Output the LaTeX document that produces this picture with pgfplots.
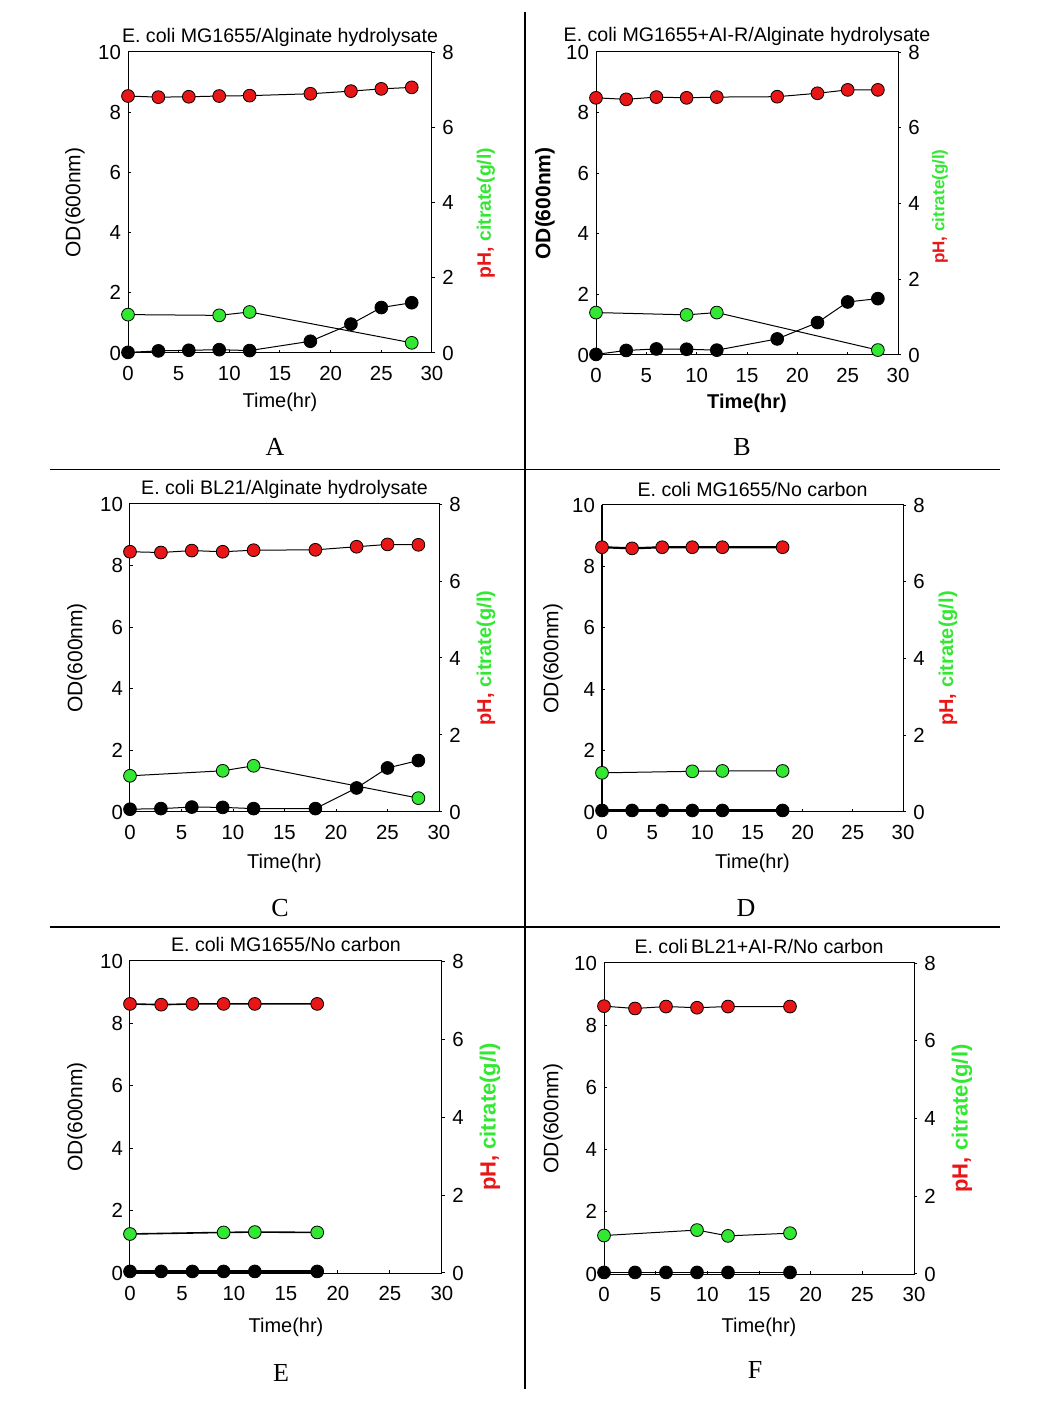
\documentclass[border=0pt]{standalone}
\usepackage{pgfplots}
\pgfplotsset{compat=1.18}
\usepackage{fontspec}
\setmainfont{Liberation Sans}
\newfontfamily\seriffont{Liberation Serif}
\definecolor{pHred}{RGB}{232,22,22}
\definecolor{citgreen}{RGB}{50,232,50}
\pgfplotsset{
  panel/.style={
    scale only axis, clip=false,
    xmin=0, xmax=30, ymin=0, ymax=10,
    xtick={0,5,...,30}, ytick={0,2,...,10},
    xtick pos=lower, ytick pos=left,
    tick align=inside, major tick length=1.6pt,
    axis line style={line width=0.5pt},
    tick style={line width=0.5pt, black},
    /pgf/number format/assume math mode=true,
    tick label style={font=\fontsize{10.2}{11}\selectfont},
    every axis title/.style={at={(axis description cs:0.5,1)}, anchor=center, font=\fontsize{9.8}{11}\selectfont},
    every axis x label/.style={at={(axis description cs:0.5,0)}, anchor=center, font=\fontsize{10}{11}\selectfont},
    xticklabel style={yshift=-3pt},
  },
  panelR/.style={
    scale only axis, clip=false,
    xmin=0, xmax=30, ymin=0, ymax=8,
    ytick={0,2,...,8},
    hide x axis, axis y line*=right,
    tick align=outside, major tick length=1.6pt,
    axis line style={line width=0.5pt},
    tick style={line width=0.5pt, black},
    /pgf/number format/assume math mode=true,
    tick label style={font=\fontsize{10.2}{11}\selectfont},
    ylabel={\textcolor{pHred}{pH,} \textcolor{citgreen}{citrate(g/l)}},
  },
  tshift/.style={every axis title/.append style={yshift=#1}},
  xlshift/.style={every axis x label/.append style={yshift=-#1}},
  ylpos/.style={every axis y label/.style={at={([xshift=-#1]axis description cs:0,0.5)}, rotate=90, anchor=center, font=\fontsize{10.5}{11}\selectfont}},
  yrpos/.style n args={3}{every axis y label/.style={at={([xshift=#1]axis description cs:1,#3)}, rotate=90, anchor=center, font=\bfseries\fontsize{#2}{12}\selectfont}},
  odser/.style={black, line width=0.5pt, mark=*, mark size=3.2pt, mark options={fill=black, draw=black, line width=0.4pt, solid}},
  phser/.style={black, line width=0.5pt, mark=*, mark size=3.2pt, mark options={fill=pHred, draw=black, line width=0.4pt, solid}},
  citser/.style={black, line width=0.5pt, mark=*, mark size=3.2pt, mark options={fill=citgreen, draw=black, line width=0.4pt, solid}},
}
\begin{document}
\begin{tikzpicture}
\path[use as bounding box] (0,0) rectangle (523pt,709.5pt);
% separators
\draw[line width=0.75pt] (262.5pt,703.5pt) -- (262.5pt,15pt);
\draw[line width=0.75pt] (25pt,474.75pt) -- (500pt,474.75pt);
\draw[line width=0.75pt] (25pt,246pt) -- (500pt,246pt);
% letters
\node[font=\seriffont\fontsize{13}{14}\selectfont] at (137.5pt,486pt) {A};
\node[font=\seriffont\fontsize{13}{14}\selectfont] at (371pt,486pt) {B};
\node[font=\seriffont\fontsize{13}{14}\selectfont] at (140pt,255.5pt) {C};
\node[font=\seriffont\fontsize{13}{14}\selectfont] at (373pt,255.5pt) {D};
\node[font=\seriffont\fontsize{13}{14}\selectfont] at (140.5pt,23pt) {E};
\node[font=\seriffont\fontsize{13}{14}\selectfont] at (377.5pt,24.5pt) {F};

% ---------------- Panel A
\begin{axis}[panel, at={(64pt,533pt)}, width=152pt, height=150.5pt,
  title={E. coli MG1655/Alginate hydrolysate}, tshift=7.5pt,
  xlabel={Time(hr)}, xlshift=24.5pt, ylabel={OD(600nm)}, ylpos=26.5pt]
\addplot[odser] coordinates {(0,0.02)(3,0.07)(6,0.09)(9,0.11)(12,0.08)(18,0.39)(22,0.96)(25,1.51)(28,1.67)};
\end{axis}
\begin{axis}[panelR, at={(64pt,533pt)}, width=152pt, height=150.5pt, yrpos={27pt}{9.7}{0.465}]
\addplot[phser] coordinates {(0,6.83)(3,6.80)(6,6.81)(9,6.83)(12,6.84)(18,6.89)(22,6.96)(25,7.02)(28,7.06)};
\addplot[citser] coordinates {(0,1.02)(9,1.00)(12,1.09)(28,0.27)};
\end{axis}

% ---------------- Panel B
\begin{axis}[panel, at={(298pt,532pt)}, width=151pt, height=151.5pt,
  title={E. coli MG1655+AI-R/Alginate hydrolysate}, tshift=8pt,
  xlabel={\bfseries Time(hr)}, xlshift=24pt, ylabel={\bfseries OD(600nm)}, ylpos=25.5pt]
\addplot[odser] coordinates {(0,0.02)(3,0.15)(6,0.20)(9,0.19)(12,0.16)(18,0.53)(22,1.07)(25,1.75)(28,1.86)};
\end{axis}
\begin{axis}[panelR, at={(298pt,532pt)}, width=151pt, height=151.5pt, yrpos={21pt}{8.5}{0.49}]
\addplot[phser] coordinates {(0,6.79)(3,6.75)(6,6.81)(9,6.79)(12,6.81)(18,6.82)(22,6.91)(25,7.0)(28,7.0)};
\addplot[citser] coordinates {(0,1.12)(9,1.06)(12,1.12)(28,0.13)};
\end{axis}

% ---------------- Panel C
\begin{axis}[panel, at={(65pt,303.5pt)}, width=154.5pt, height=154pt,
  title={E. coli BL21/Alginate hydrolysate}, tshift=7.5pt,
  xlabel={Time(hr)}, xlshift=25.5pt, ylabel={OD(600nm)}, ylpos=26.5pt]
\addplot[odser] coordinates {(0,0.09)(3,0.11)(6,0.16)(9,0.15)(12,0.11)(18,0.11)(22,0.78)(25,1.43)(28,1.67)};
\end{axis}
\begin{axis}[panelR, at={(65pt,303.5pt)}, width=154.5pt, height=154pt, yrpos={23.5pt}{10}{0.5}]
\addplot[phser] coordinates {(0,6.76)(3,6.74)(6,6.79)(9,6.76)(12,6.80)(18,6.81)(22,6.89)(25,6.95)(28,6.94)};
\addplot[citser] coordinates {(0,0.94)(9,1.07)(12,1.20)(28,0.36)};
\end{axis}

% ---------------- Panel D
\begin{axis}[panel, at={(301pt,303.5pt)}, width=150.5pt, height=153.5pt,
  title={E. coli MG1655/No carbon}, tshift=7.5pt,
  xlabel={Time(hr)}, xlshift=25.5pt, ylabel={OD(600nm)}, ylpos=24.5pt]
\draw[line width=1.3pt] (axis cs:0,0) -- (axis cs:0,10);
\addplot[odser, line width=1.3pt] coordinates {(0,0.05)(3,0.05)(6,0.05)(9,0.05)(12,0.05)(18,0.05)};
\end{axis}
\begin{axis}[panelR, at={(301pt,303.5pt)}, width=150.5pt, height=153.5pt, yrpos={22.5pt}{10}{0.5}]
\addplot[phser, line width=1.1pt] coordinates {(0,6.90)(3,6.87)(6,6.90)(9,6.90)(12,6.90)(18,6.90)};
\addplot[citser] coordinates {(0,1.02)(9,1.06)(12,1.07)(18,1.07)};
\end{axis}

% ---------------- Panel E
\begin{axis}[panel, at={(65pt,73pt)}, width=156pt, height=156pt,
  title={E. coli MG1655/No carbon}, tshift=8.5pt,
  xlabel={Time(hr)}, xlshift=27pt, ylabel={OD(600nm)}, ylpos=26.5pt]
\addplot[odser, line width=1.3pt] coordinates {(0,0.05)(3,0.05)(6,0.05)(9,0.05)(12,0.05)(18,0.05)};
\end{axis}
\begin{axis}[panelR, at={(65pt,73pt)}, width=156pt, height=156pt, yrpos={24pt}{11}{0.5}]
\addplot[phser, line width=0.8pt] coordinates {(0,6.90)(3,6.88)(6,6.90)(9,6.90)(12,6.90)(18,6.90)};
\addplot[citser, line width=0.8pt] coordinates {(0,1.00)(9,1.04)(12,1.05)(18,1.04)};
\end{axis}

% ---------------- Panel F
\begin{axis}[panel, at={(302pt,72.5pt)}, width=155pt, height=155.5pt,
  title={E. coli\,BL21+AI-R/No carbon}, tshift=8.5pt,
  xlabel={Time(hr)}, xlshift=26.5pt, ylabel={OD(600nm)}, ylpos=25.5pt]
\addplot[odser, line width=0.9pt] coordinates {(0,0.05)(3,0.05)(6,0.05)(9,0.05)(12,0.05)(18,0.05)};
\end{axis}
\begin{axis}[panelR, at={(302pt,72.5pt)}, width=155pt, height=155.5pt, yrpos={24pt}{11}{0.5}]
\addplot[phser] coordinates {(0,6.89)(3,6.83)(6,6.88)(9,6.85)(12,6.88)(18,6.88)};
\addplot[citser] coordinates {(0,0.99)(9,1.13)(12,0.98)(18,1.05)};
\end{axis}
\end{tikzpicture}
\end{document}
